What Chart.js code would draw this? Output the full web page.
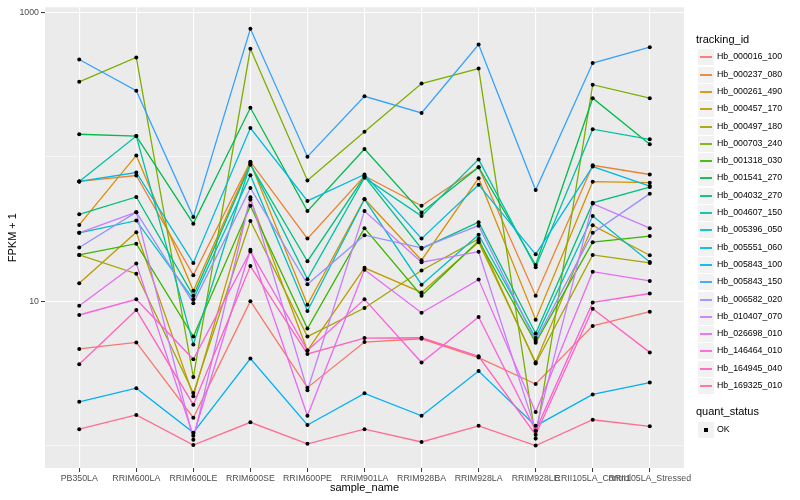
<!DOCTYPE html>
<html><head><meta charset="utf-8">
<script src="https://cdn.jsdelivr.net/npm/chart.js@4.4.1/dist/chart.umd.min.js"></script>
<style>
body{margin:0;background:#fff;font-family:"Liberation Sans",Arial,Helvetica,sans-serif;}
#wrap{position:relative;width:800px;height:500px;overflow:hidden;}
#c{position:absolute;left:0;top:0;}
.lt{position:absolute;left:696px;font-size:11px;color:#000;line-height:13px;}
.it{position:absolute;left:697px;height:17px;width:100px;}
.key{position:absolute;left:0;top:0;width:16px;height:16px;background:#F2F2F2;border:0.5px solid #fff;}
.kl{position:absolute;left:2px;top:7px;width:12px;height:2px;opacity:0.9;}
.tx{position:absolute;left:20px;top:0;line-height:17px;font-size:8.8px;color:#000;white-space:nowrap;}
.sq{position:absolute;left:6px;top:6px;width:4px;height:4px;background:#000;}
</style></head><body>
<div id="wrap"><canvas id="c" width="800" height="500"></canvas><div id="legend"></div></div>
<script>
const categories = ["PB350LA","RRIM600LA","RRIM600LE","RRIM600SE","RRIM600PE","RRIM901LA","RRIM928BA","RRIM928LA","RRIM928LE","RRII105LA_Control","RRII105LA_Stressed"];
const trackingIds = ["Hb_000016_100","Hb_000237_080","Hb_000261_490","Hb_000457_170","Hb_000497_180","Hb_000703_240","Hb_001318_030","Hb_001541_270","Hb_004032_270","Hb_004607_150","Hb_005396_050","Hb_005551_060","Hb_005843_100","Hb_005843_150","Hb_006582_020","Hb_010407_070","Hb_026698_010","Hb_146464_010","Hb_164945_040","Hb_169325_010"];
const seriesColors = ["#F8766D","#EA8331","#D89000","#C09B00","#A3A500","#7CAE00","#39B600","#00BB4E","#00BF7D","#00C1A3","#00BFC4","#00BAE0","#00B0F6","#35A2FF","#9590FF","#C77CFF","#E76BF3","#FA62DB","#FF62BC","#FF6C91"];
const yTickValues = [1, 10, 100, 1000];
const yTickLabels = ["", "10", "", "1000"];
const qualityLevels = ["OK"];

// FPKM + 1 values, one array per tracking_id, in category order
const hb000016_100 = [4.67, 5.18, 1.56, 10.0, 2.52, 5.21, 5.49, 4.07, 2.67, 6.74, 8.45];
const hb000237_080 = [67.4, 74.1, 15.1, 92.4, 27.1, 73.5, 45.7, 84.5, 10.9, 87.2, 75.3];
const hb000261_490 = [33.7, 102, 11.8, 91.0, 9.43, 51.0, 19.2, 71.0, 7.45, 67.1, 66.1];
const hb000457_170 = [13.3, 30.0, 2.20, 50.5, 4.55, 17.0, 11.5, 25.6, 3.78, 33.5, 20.8];
const hb000497_180 = [20.9, 15.5, 2.31, 35.9, 5.69, 8.96, 16.3, 27.0, 3.70, 20.9, 18.4];
const hb000703_240 = [330, 486, 2.98, 558, 68.5, 149, 321, 407, 1.12, 315, 254];
const hb001318_030 = [20.9, 25.0, 5.69, 45.7, 6.46, 32.0, 10.9, 26.2, 5.16, 25.6, 28.2];
const hb001541_270 = [143, 139, 34.4, 218, 42.0, 113, 41.1, 84.5, 17.8, 254, 122];
const hb004032_270 = [39.9, 52.6, 10.9, 88.1, 18.9, 72.9, 23.1, 35.2, 5.97, 47.9, 61.6];
const hb004607_150 = [67.4, 139, 5.02, 89.1, 14.2, 71.5, 38.8, 95.8, 17.2, 155, 132];
const hb005396_050 = [29.7, 36.1, 10.3, 74.5, 8.54, 50.7, 13.0, 28.8, 5.55, 38.8, 18.7];
const hb005551_060 = [67.4, 77.7, 18.4, 158, 49.4, 75.3, 27.1, 64.0, 21.1, 85.4, 62.6];
const hb005843_100 = [2.01, 2.50, 1.23, 4.01, 1.39, 2.30, 1.61, 3.28, 1.37, 2.26, 2.73];
const hb005843_150 = [471, 286, 38.2, 768, 100, 262, 201, 597, 58.8, 445, 573];
const hb006582_020 = [23.5, 41.3, 9.69, 60.7, 13.1, 28.6, 23.4, 33.3, 5.32, 29.7, 55.5];
const hb010407_070 = [29.7, 41.3, 1.10, 52.4, 2.42, 42.0, 18.6, 22.0, 1.27, 47.4, 32.0];
const hb026698_010 = [9.29, 18.2, 1.17, 22.7, 1.61, 16.5, 8.32, 14.1, 1.71, 16.0, 13.8];
const hb146464_010 = [8.02, 10.3, 3.96, 22.1, 4.55, 10.3, 3.76, 7.77, 1.27, 9.80, 11.3];
const hb164945_040 = [3.66, 8.67, 1.92, 17.5, 4.31, 5.55, 5.58, 4.15, 1.19, 8.86, 4.42];
const hb169325_010 = [1.30, 1.63, 1.01, 1.45, 1.03, 1.30, 1.06, 1.37, 1.00, 1.51, 1.36];

const seriesValues = [hb000016_100, hb000237_080, hb000261_490, hb000457_170, hb000497_180, hb000703_240, hb001318_030, hb001541_270, hb004032_270, hb004607_150, hb005396_050, hb005551_060, hb005843_100, hb005843_150, hb006582_020, hb010407_070, hb026698_010, hb146464_010, hb164945_040, hb169325_010];

const n = seriesValues.length;
const datasets = seriesValues.map((vals, si) => ({
  label: trackingIds[si],
  data: vals.map((v, i) => ({x: i, y: v})),
  borderColor: seriesColors[si],
  backgroundColor: seriesColors[si],
  borderWidth: 1.3,
  pointRadius: 0,
  tension: 0,
  fill: false,
  order: n - si
}));
const allPoints = [];
seriesValues.forEach(vals => vals.forEach((v, i) => allPoints.push({x: i, y: v})));
datasets.push({
  label: 'OK',
  data: allPoints,
  showLine: false,
  pointRadius: 2,
  pointBorderWidth: 0,
  pointBackgroundColor: '#000',
  pointBorderColor: '#000',
  order: -1
});

const panelBg = {
  id: 'panelBg',
  beforeDraw(chart) {
    const {ctx, chartArea: a} = chart;
    ctx.save();
    ctx.fillStyle = '#EBEBEB';
    ctx.fillRect(a.left, a.top, a.right - a.left, a.bottom - a.top);
    ctx.restore();
  }
};

const FONT = '"Liberation Sans", Arial, Helvetica, sans-serif';
const isMajorY = v => v === 10 || v === 1000;

new Chart(document.getElementById('c'), {
  type: 'line',
  data: {datasets},
  plugins: [panelBg],
  options: {
    responsive: false,
    animation: false,
    events: [],
    layout: {padding: {top: 5, right: 116, left: 0, bottom: 0}},
    plugins: {legend: {display: false}, tooltip: {enabled: false}},
    scales: {
      x: {
        type: 'linear',
        min: -0.6, max: 10.6,
        afterFit: s => { s.height = 32; },
        afterBuildTicks: s => { s.ticks = categories.map((c, i) => ({value: i})); },
        border: {display: false},
        grid: {color: '#FFFFFF', lineWidth: 1.1, drawTicks: true, tickLength: 4, tickColor: '#333333', tickWidth: 1},
        ticks: {
          autoSkip: false, maxRotation: 0, minRotation: 0, padding: 1.5,
          color: '#4D4D4D', font: {family: FONT, size: 8.8},
          callback: v => categories[v]
        },
        title: {display: true, text: 'sample_name', color: '#000', font: {family: FONT, size: 11}, padding: {top: 0, bottom: 5}}
      },
      y: {
        type: 'logarithmic',
        min: 0.730, max: 1082,
        afterFit: s => { s.width = 45; },
        afterBuildTicks: s => { s.ticks = yTickValues.map(v => ({value: v})); },
        border: {display: false},
        grid: {
          color: '#FFFFFF',
          lineWidth: c => (c.tick && isMajorY(c.tick.value)) ? 1.1 : 0.55,
          drawTicks: true, tickLength: 4, tickWidth: 1,
          tickColor: c => (c.tick && isMajorY(c.tick.value)) ? '#333333' : 'rgba(0,0,0,0)'
        },
        ticks: {
          padding: 2, color: '#4D4D4D', font: {family: FONT, size: 8.8},
          callback: (v) => yTickLabels[yTickValues.indexOf(v)] || ''
        },
        title: {display: true, text: 'FPKM + 1', color: '#000', font: {family: FONT, size: 11}, padding: {top: 6.7, bottom: 0}}
      }
    }
  }
});

// legend (real text)
const lg = document.getElementById('legend');
let html = '<div class="lt" style="top:33px">tracking_id</div>';
trackingIds.forEach((id, i) => {
  const top = Math.round(57 - 8.65 + 17.3 * i);
  html += '<div class="it" style="top:' + top + 'px"><div class="key"><div class="kl" style="background:' + seriesColors[i] + '"></div></div><div class="tx">' + id + '</div></div>';
});
html += '<div class="lt" style="top:405px">quant_status</div>';
qualityLevels.forEach((q, i) => {
  const top = Math.round(429.3 - 8.65 + 17.3 * i);
  html += '<div class="it" style="top:' + top + 'px"><div class="key"><div class="sq"></div></div><div class="tx">' + q + '</div></div>';
});
lg.innerHTML = html;
</script>
</body></html>
